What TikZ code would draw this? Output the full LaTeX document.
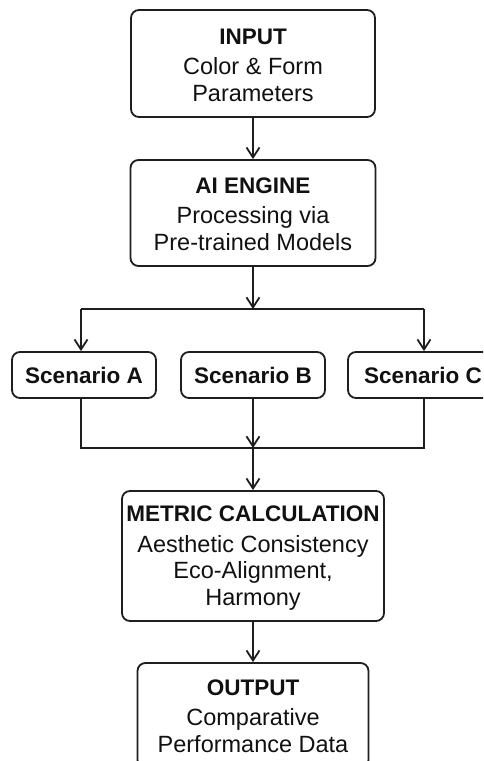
\documentclass[tikz,border=0pt]{standalone}
\usepackage{fontspec}
\setmainfont{Liberation Sans}
\usetikzlibrary{arrows.meta}
\definecolor{linec}{HTML}{1E1E1E}
\definecolor{textc}{HTML}{111111}
\newcommand{\ttl}[2]{{\fontsize{22.5}{27}\selectfont\bfseries\rule{0pt}{#1}#2}}
\begin{document}
\begin{tikzpicture}[x=1pt,y=-1pt,
  box/.style={draw=linec, line width=1.8pt, rounded corners=8pt, align=center,
    inner sep=0pt, text=textc, font=\fontsize{23.5}{26.5}\selectfont},
  scen/.style={box, font=\fontsize{22.5}{26}\selectfont\bfseries, minimum width=144pt, minimum height=46pt},
  conn/.style={draw=linec, line width=1.8pt},
  arr/.style={conn, -{Straight Barb[length=10pt,width=13pt]}}]
\useasboundingbox (0,0) rectangle (483,761);
\clip (0,0) rectangle (483,761);
\node[box, minimum width=244pt, minimum height=107pt] (inp) at (253,63.5)
  {\ttl{19.2pt}{INPUT}\\[4pt]Color \& Form\\Parameters};
\node[box, minimum width=245pt, minimum height=106pt] (ai) at (253,213)
  {\ttl{18.2pt}{AI ENGINE}\\[4pt]Processing via\\Pre-trained Models};
\node[scen] (sA) at (84,375) {Scenario A};
\node[scen] (sB) at (253,375) {Scenario B};
\node[scen, minimum width=150pt] (sC) at (423,375) {Scenario C};
\node[box, minimum width=262pt, minimum height=130pt] (met) at (253,556)
  {\ttl{20.2pt}{METRIC CALCULATION}\\[4pt]Aesthetic Consistency\\Eco-Alignment,\\Harmony};
\node[box, minimum width=231pt, minimum height=105pt] (out) at (253,715.5)
  {\ttl{17.2pt}{OUTPUT}\\[4pt]Comparative\\Performance Data};
\coordinate (j1) at (253,309);
\coordinate (jl) at (81,309);
\coordinate (jr) at (424,309);
\coordinate (k1) at (253,448);
\coordinate (kl) at (81,448);
\coordinate (kr) at (424,448);
\draw[arr] (inp.south) -- (ai.north);
\draw[arr] (ai.south) -- (j1);
\draw[conn] (jl) -- (jr);
\draw[arr] (jl) -- (jl |- sA.north);
\draw[arr] (jr) -- (jr |- sC.north);
\draw[arr] (sB.south) -- (k1);
\draw[conn] (kl |- sA.south) -- (kl) -- (kr) -- (kr |- sC.south);
\draw[arr] (k1) -- (met.north);
\draw[arr] (met.south) -- (out.north);
\end{tikzpicture}
\end{document}
